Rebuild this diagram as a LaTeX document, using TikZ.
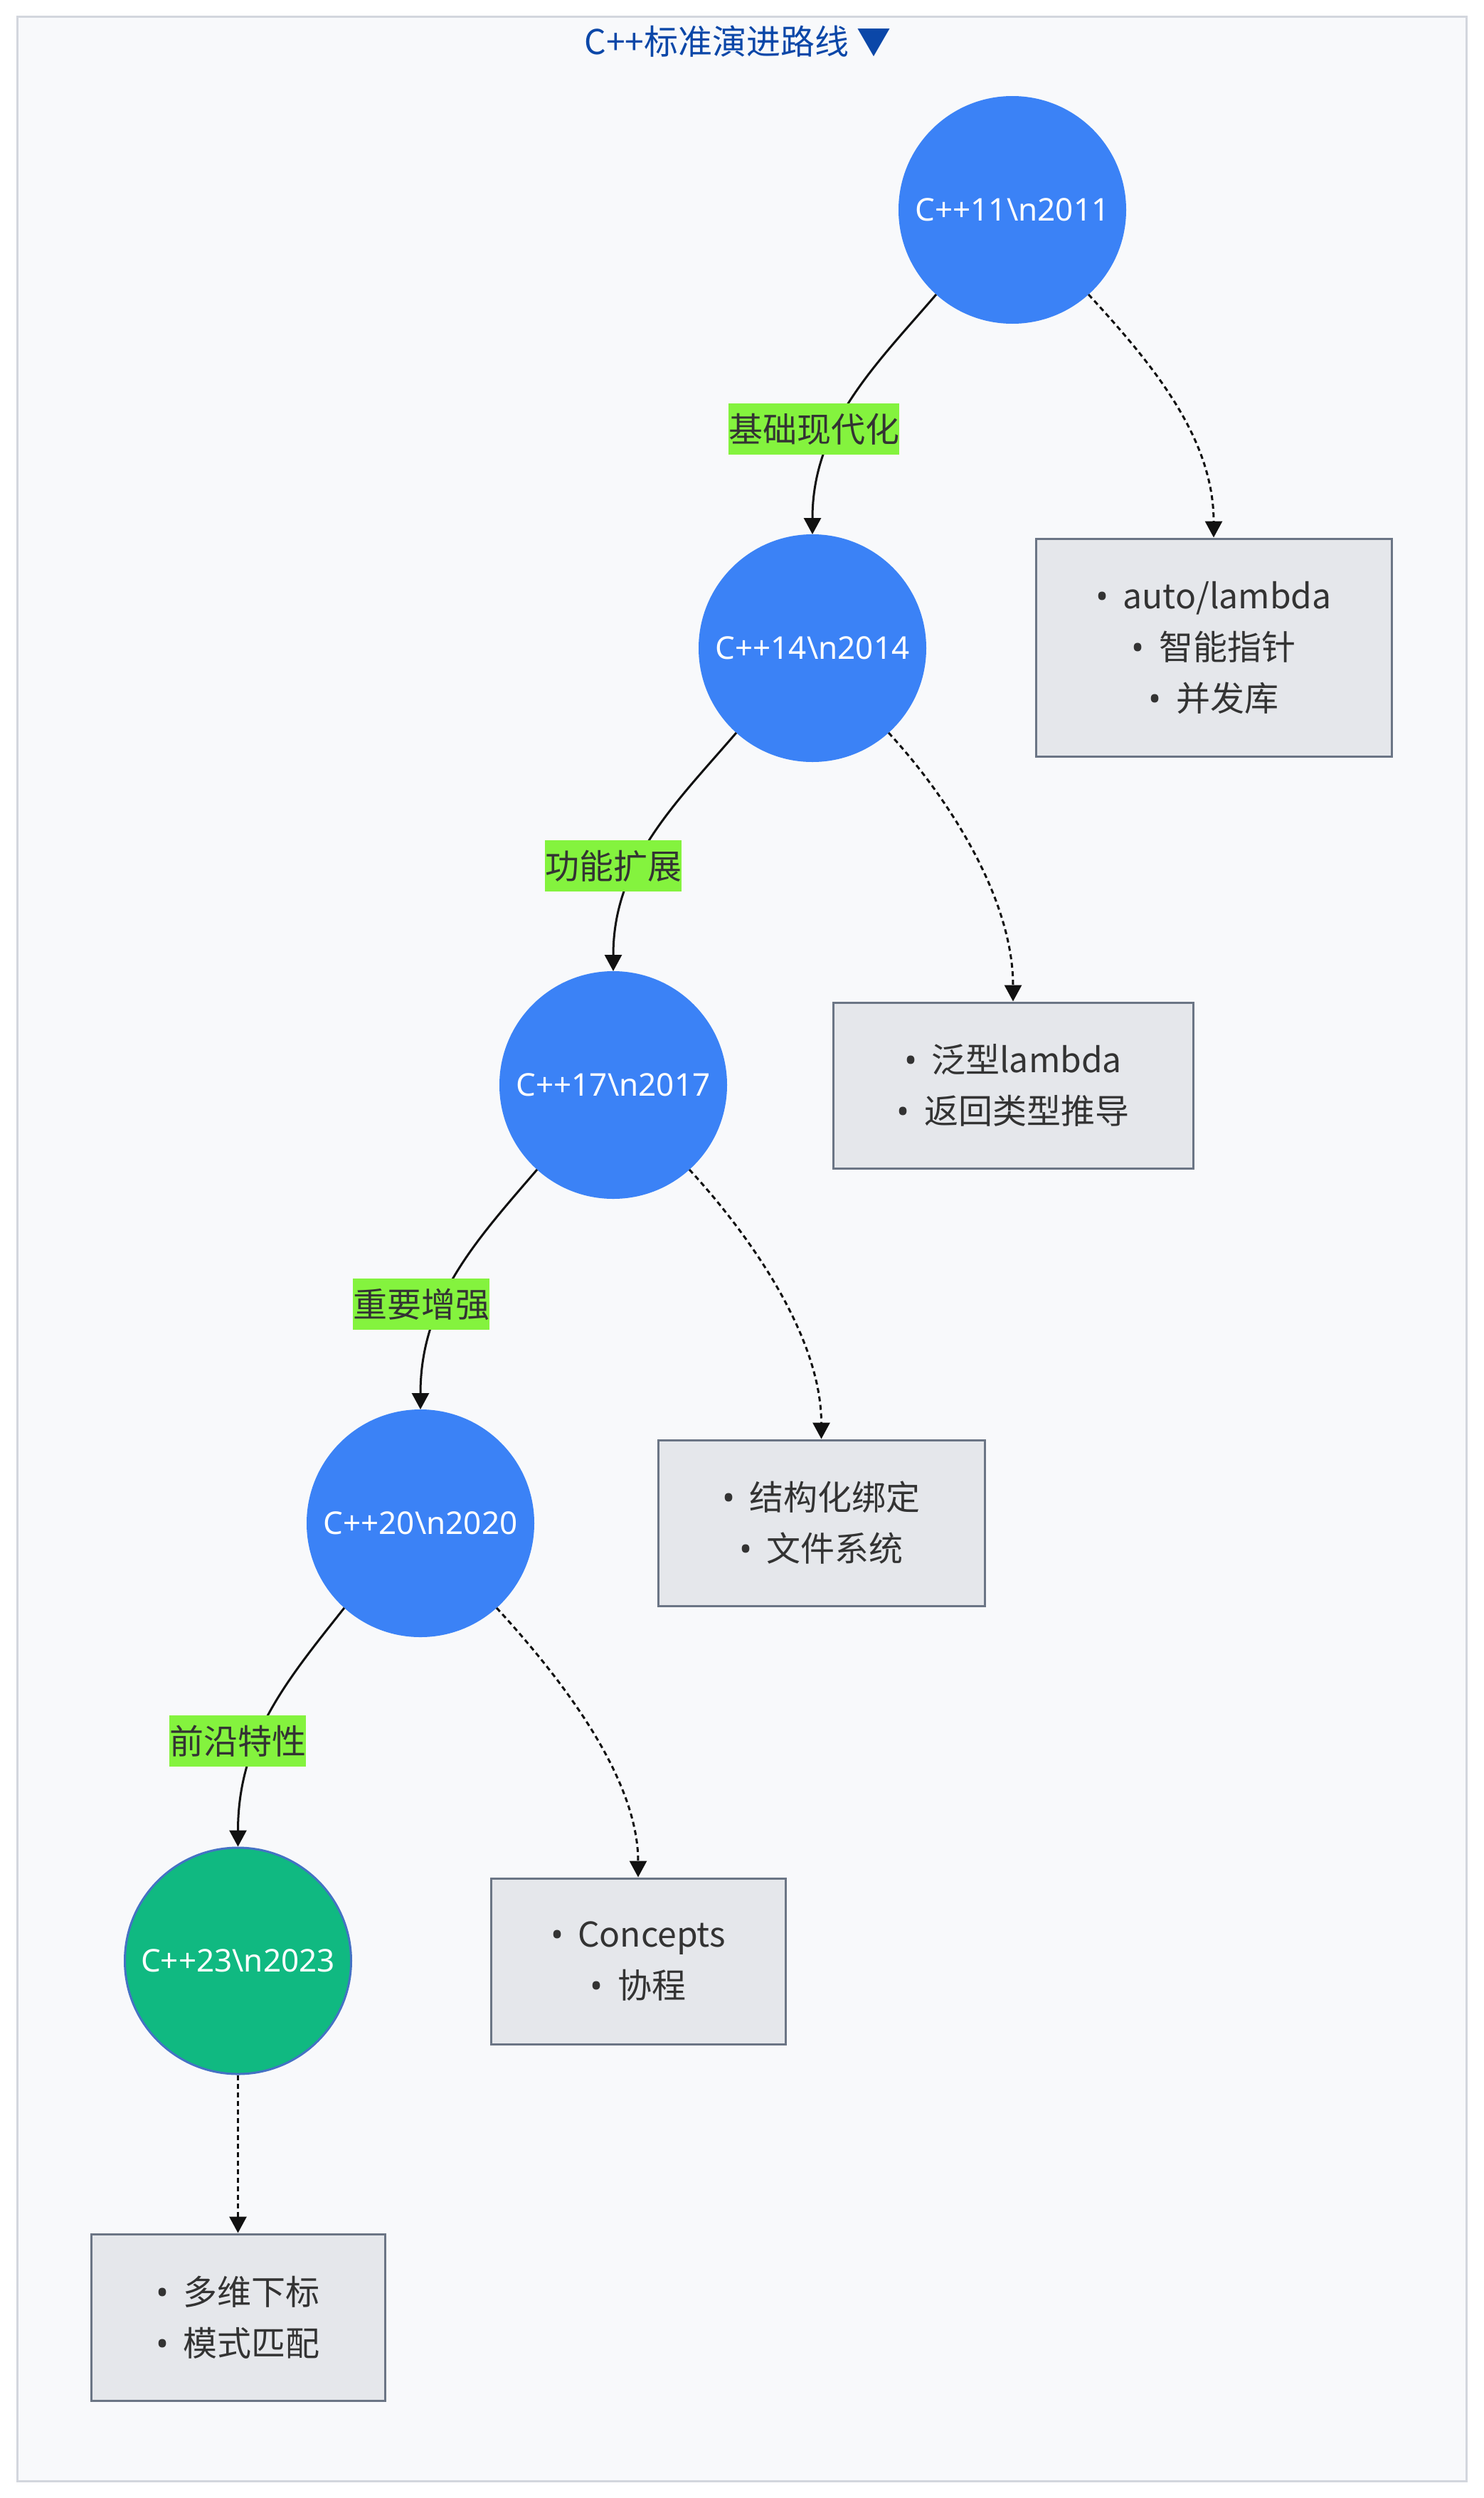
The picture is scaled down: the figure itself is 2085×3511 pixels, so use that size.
\documentclass[tikz,border=0pt]{standalone}
\usepackage{fontspec}
\setmainfont{Noto Sans CJK SC}
\newfontfamily\bulletfont{Noto Sans}
\newfontfamily\versionfont{Noto Sans}
\newcommand{\bul}{{\bulletfont •}\hspace{0.42em}}
\usetikzlibrary{calc,arrows.meta}
\definecolor{framebg}{HTML}{F8F9FB}
\definecolor{frameline}{HTML}{D3D6DD}
\definecolor{titleblue}{HTML}{0B47A8}
\definecolor{circblue}{HTML}{3B82F6}
\definecolor{circgreen}{HTML}{10B981}
\definecolor{greenborder}{HTML}{4472C4}
\definecolor{boxfill}{HTML}{E5E7EB}
\definecolor{boxline}{HTML}{6B7585}
\definecolor{labelbg}{HTML}{84F33E}
\definecolor{textdark}{HTML}{333333}
\definecolor{edgeblack}{HTML}{111111}
\tikzset{
  version/.style={circle, fill=circblue, draw=circblue, line width=1pt, minimum size=159pt, inner sep=0pt, text=white, font=\versionfont\fontsize{22}{27}\selectfont},
  latest/.style={version, fill=circgreen, draw=greenborder, line width=1.5pt},
  featbox/.style={rectangle, fill=boxfill, draw=boxline, line width=1.5pt, align=center, text=textdark, font=\fontsize{24}{36}\selectfont, inner sep=0pt},
  edgelabel/.style={fill=labelbg, text=textdark, font=\fontsize{24}{29}\selectfont, inner xsep=0pt, inner ysep=0pt, minimum height=36pt},
  mainedge/.style={draw=edgeblack, line width=1.5pt, -{Triangle[length=11.5pt,width=12pt]}},
  noteedge/.style={mainedge, dash pattern=on 3.5pt off 2.5pt},
}
\begin{document}
\begin{tikzpicture}[x=0.5pt, y=-0.5pt]
\useasboundingbox (0,0) rectangle (2085,3511);
\fill[white] (0,0) rectangle (2085,3511);
\draw[draw=frameline, fill=framebg, line width=1.5pt] (24,24) rectangle (2061,3487);

\node[font=\fontsize{24}{29}\selectfont, text=titleblue] (title) at (1037,58) {C++标准演进路线 ▼};

% versions
\node[version] (c11) at (1423,295) {C++11\textbackslash n2011};
\node[version] (c14) at (1142,911) {C++14\textbackslash n2014};
\node[version] (c17) at (862,1525) {C++17\textbackslash n2017};
\node[version] (c20) at (591,2141) {C++20\textbackslash n2020};
\node[latest]  (c23) at (334.5,2756) {C++23\textbackslash n2023};

% feature boxes
\node[featbox, minimum width=250pt, minimum height=153pt] (b11) at (1706,910) {\bul auto/lambda\\\bul 智能指针\\\bul 并发库};
\node[featbox, minimum width=253pt, minimum height=116.5pt] (b14) at (1424,1525.5) {\bul 泛型lambda\\\bul 返回类型推导};
\node[featbox, minimum width=229.5pt, minimum height=116.5pt] (b17) at (1154.5,2140.5) {\bul 结构化绑定\\\bul 文件系统};
\node[featbox, minimum width=207pt, minimum height=116.5pt] (b20) at (897,2756.5) {\bul Concepts\\\bul 协程};
\node[featbox, minimum width=206.5pt, minimum height=117pt] (b23) at (334.5,3257) {\bul 多维下标\\\bul 模式匹配};

% main evolution edges
\draw[mainedge] (c11.228) .. controls ($(c11.228)+(-87,101)$) and ($(c14.north)+(0,-152)$) .. (c14.north);
\draw[mainedge] (c14.228) .. controls ($(c14.228)+(-87,101)$) and ($(c17.north)+(0,-152)$) .. (c17.north);
\draw[mainedge] (c17.228) .. controls ($(c17.228)+(-87,101)$) and ($(c20.north)+(0,-152)$) .. (c20.north);
\draw[mainedge] (c20.228) .. controls ($(c20.228)+(-80,101)$) and ($(c23.north)+(0,-152)$) .. (c23.north);

% feature edges
\draw[noteedge] (c11.312) .. controls ($(c11.312)+(90,98)$) and ($(b11.north)+(0,-140)$) .. (b11.north);
\draw[noteedge] (c14.312) .. controls ($(c14.312)+(90,98)$) and ($(b14.north)+(0,-140)$) .. (b14.north);
\draw[noteedge] (c17.312) .. controls ($(c17.312)+(90,98)$) and ($(b17.north)+(0,-140)$) .. (b17.north);
\draw[noteedge] (c20.312) .. controls ($(c20.312)+(90,98)$) and ($(b20.north)+(0,-140)$) .. (b20.north);
\draw[noteedge] (c23.south) -- (b23.north);

% edge labels
\node[edgelabel] (l1) at (1144,603) {基础现代化};
\node[edgelabel] (l2) at (862,1217) {功能扩展};
\node[edgelabel] (l3) at (592,1833) {重要增强};
\node[edgelabel] (l4) at (334,2447) {前沿特性};
\end{tikzpicture}
\end{document}
